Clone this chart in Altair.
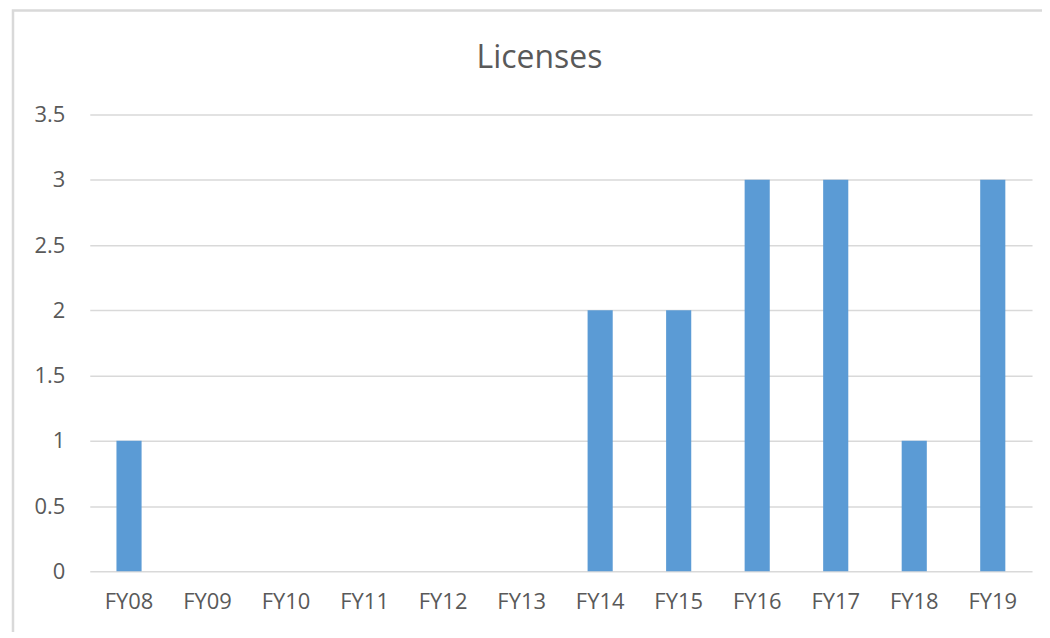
import altair as alt
import pandas as pd

categories = ["FY08", "FY09", "FY10", "FY11", "FY12", "FY13",
              "FY14", "FY15", "FY16", "FY17", "FY18", "FY19"]
values = [1, 0, 0, 0, 0, 0, 2, 2, 3, 3, 1, 3]
y_ticks = [0, 0.5, 1, 1.5, 2, 2.5, 3, 3.5]
title_text = "Licenses"

df = pd.DataFrame({"year": categories, "licenses": values})

FONT = "Open Sans"
LABEL = "#595959"
GRID = "#d9d9d9"

one = pd.DataFrame({"a": [0]})

border = alt.Chart(one).mark_rect(
    fill=None, stroke=GRID, strokeWidth=2.5
).encode(
    x=alt.value(-77), x2=alt.value(1020),
    y=alt.value(-104.5), y2=alt.value(600)
)

title = alt.Chart(one).mark_text(
    text=title_text, font=FONT, fontSize=32, color=LABEL,
    align="center", baseline="alphabetic"
).encode(x=alt.value(451), y=alt.value(-47))

bars = alt.Chart(df).mark_bar(color="#5b9bd5").encode(
    x=alt.X("year:N", sort=categories, title=None,
            scale=alt.Scale(paddingInner=0.68, paddingOuter=0.34),
            axis=alt.Axis(labelAngle=0, domain=False, ticks=False,
                          labelPadding=20, labelFont=FONT, labelFontSize=22,
                          labelColor=LABEL)),
    y=alt.Y("licenses:Q", title=None,
            scale=alt.Scale(domain=[0, 3.5], nice=False),
            axis=alt.Axis(values=y_ticks, format="~g", domain=False, ticks=False,
                          labelPadding=25, labelFont=FONT, labelFontSize=22,
                          labelColor=LABEL, gridColor=GRID, gridWidth=1.5))
)

chart = alt.layer(border, title, bars).properties(
    width=945, height=458,
    autosize=alt.AutoSizeParams(type="none"),
    padding={"left": 82, "top": 106, "right": 10, "bottom": 60},
    background="white"
).configure_view(stroke=None)

chart.save("out.html", embed_options={"renderer": "svg", "actions": False})
